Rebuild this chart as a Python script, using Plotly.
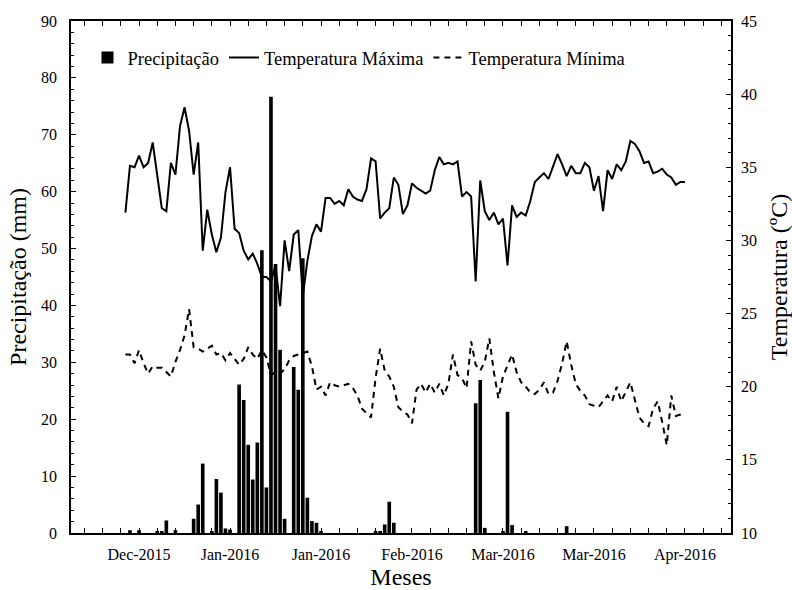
import pandas as pd
import plotly.graph_objects as go

start_date = "2015-12-09"
tick_dates = ["2015-12-12", "2016-01-01", "2016-01-21", "2016-02-10",
              "2016-03-01", "2016-03-21", "2016-04-10"]

precip = [0, 0.5, 0, 0.5, 0, 0, 0, 0.2, 0.2, 2.2,
          0, 0.5, 0, 0, 0, 2.5, 5.0, 12.2, 0, 0.2,
          9.5, 7.1, 0.8, 0.6, 0, 26.1, 23.4, 15.5, 9.4, 15.9,
          49.7, 8.0, 76.7, 47.3, 32.2, 2.5, 0, 29.2, 25.2, 48.3,
          6.2, 2.1, 1.8, 0.2, 0, 0, 0, 0, 0, 0,
          0, 0, 0, 0, 0, 0.2, 0.2, 1.5, 5.5, 1.8,
          0, 0, 0, 0, 0, 0, 0, 0, 0, 0,
          0, 0, 0, 0, 0, 0, 0, 22.8, 26.9, 0.9,
          0, 0, 0, 0.3, 21.3, 1.4, 0, 0, 0.3, 0,
          0, 0, 0, 0, 0, 0, 0, 1.2, 0, 0,
          0, 0, 0, 0, 0, 0, 0, 0, 0, 0,
          0, 0, 0, 0, 0, 0, 0, 0, 0, 0,
          0, 0, 0, 0]

tmax = [31.9, 35.1, 35.0, 35.8, 35.0, 35.3, 36.7, 34.5, 32.2, 32.0,
        35.3, 34.5, 37.8, 39.1, 37.5, 34.5, 36.7, 29.3, 32.1, 30.4,
        29.2, 30.2, 33.3, 35.0, 30.8, 30.5, 29.3, 28.7, 29.1, 28.4,
        27.5, 27.5, 27.2, 28.3, 25.5, 30.0, 27.9, 30.4, 30.7, 26.2,
        28.6, 30.3, 31.1, 30.6, 32.9, 32.9, 32.5, 32.7, 32.4, 33.5,
        33.0, 32.8, 32.7, 33.5, 35.6, 35.4, 31.5, 31.9, 32.2, 34.3,
        33.8, 31.8, 32.4, 33.9, 33.6, 33.4, 33.2, 33.4, 34.8, 35.7,
        35.2, 35.3, 35.2, 35.4, 33.0, 33.3, 33.0, 27.2, 34.1, 32.0,
        31.4, 31.9, 31.1, 31.5, 28.3, 32.4, 31.6, 31.9, 31.7, 32.7,
        34.0, 34.3, 34.6, 34.2, 35.0, 35.9, 35.2, 34.4, 35.1, 34.6,
        34.6, 35.3, 35.0, 33.4, 34.4, 32.0, 34.8, 34.2, 35.2, 34.8,
        35.4, 36.8, 36.6, 36.1, 35.3, 35.4, 34.6, 34.7, 34.9, 34.5,
        34.3, 33.8, 34.0, 34.0]

tmin = [22.2, 22.2, 21.6, 22.5, 21.6, 20.9, 21.4, 21.3, 21.3, 21.0,
        20.7, 21.7, 22.5, 23.5, 25.3, 22.7, 22.6, 22.4, 22.6, 22.8,
        22.2, 22.3, 21.8, 22.3, 21.9, 21.5, 21.9, 22.7, 22.2, 21.9,
        22.5, 22.0, 20.8, 21.0, 20.9, 21.2, 21.8, 22.1, 22.2, 22.3,
        22.4, 21.4, 19.8, 20.0, 19.4, 20.3, 20.1, 20.0, 20.1, 20.2,
        19.9, 19.4, 18.5, 18.2, 17.9, 20.6, 22.6, 21.1, 20.7, 20.0,
        18.6, 18.3, 18.1, 17.5, 19.8, 20.2, 19.6, 20.2, 19.6, 20.2,
        19.4, 20.2, 22.2, 20.8, 20.6, 19.9, 23.1, 21.5, 21.1, 21.7,
        23.3, 21.0, 19.2, 20.7, 21.5, 22.2, 21.0, 20.3, 20.0, 19.6,
        19.5, 19.8, 20.3, 19.5, 19.6, 20.4, 21.6, 23.1, 21.5, 20.2,
        19.7, 19.4, 18.8, 18.7, 18.6, 19.0, 19.4, 19.0, 20.0, 19.0,
        19.6, 20.3, 19.1, 17.9, 17.5, 17.3, 18.5, 19.0, 17.6, 16.0,
        19.4, 18.0, 18.1, 18.3]

dates = pd.date_range(start_date, periods=len(tmax), freq="D")
DAY = 86400000
FONT = "Liberation Serif"

fig = go.Figure()
fig.add_trace(go.Bar(x=dates, y=precip, name="Precipitação", marker_color="black",
                     marker_line_width=0, width=0.8 * DAY, yaxis="y"))
fig.add_trace(go.Scatter(x=dates, y=tmax, mode="lines", name="Temperatura Máxima",
                         line=dict(color="black", width=2), yaxis="y2"))
fig.add_trace(go.Scatter(x=dates, y=tmin, mode="lines", name="Temperatura Mínima",
                         line=dict(color="black", width=2, dash="6px,5px"), yaxis="y2"))

axis_common = dict(showline=True, linecolor="black", linewidth=1.5, showgrid=False,
                   zeroline=False, ticks="inside", ticklen=5, tickcolor="black",
                   automargin=False,
                   tickfont=dict(family=FONT, size=16, color="black"))

fig.update_layout(
    width=792, height=590,
    margin=dict(l=71, r=61, t=21, b=57),
    paper_bgcolor="white", plot_bgcolor="white",
    font=dict(family=FONT, color="black"),
    showlegend=True,
    legend=dict(orientation="h", x=0.025, y=0.928, xanchor="left", yanchor="middle",
                font=dict(family=FONT, size=18.5, color="black"),
                bgcolor="rgba(0,0,0,0)", traceorder="normal", itemwidth=30),
    xaxis=dict(axis_common, type="date",
               range=["2015-11-27 01:00", "2016-04-20 03:00"],
               tickmode="array", tickvals=tick_dates, tickformat="%b-%Y",
               mirror="allticks", ticklabelstandoff=6,
               minor=dict(ticks="inside", ticklen=3, tickcolor="black",
                          dtick=4 * DAY, tick0="2015-12-12"),
               title=dict(text="Meses", font=dict(family=FONT, size=24), standoff=7)),
    yaxis=dict(axis_common, range=[0, 90], dtick=10, mirror=True,
               ticklabelstandoff=9,
               minor=dict(ticks="inside", ticklen=3, tickcolor="black", dtick=2),
               title=dict(text="Precipitação (mm)", font=dict(family=FONT, size=24), standoff=8)),
    yaxis2=dict(axis_common, range=[10, 45], dtick=5, overlaying="y", side="right",
                ticklabelstandoff=5,
                minor=dict(ticks="inside", ticklen=3, tickcolor="black", dtick=1),
                title=dict(text="Temperatura (ºC)", font=dict(family=FONT, size=24), standoff=15)),
)

fig.write_html("out.html")
